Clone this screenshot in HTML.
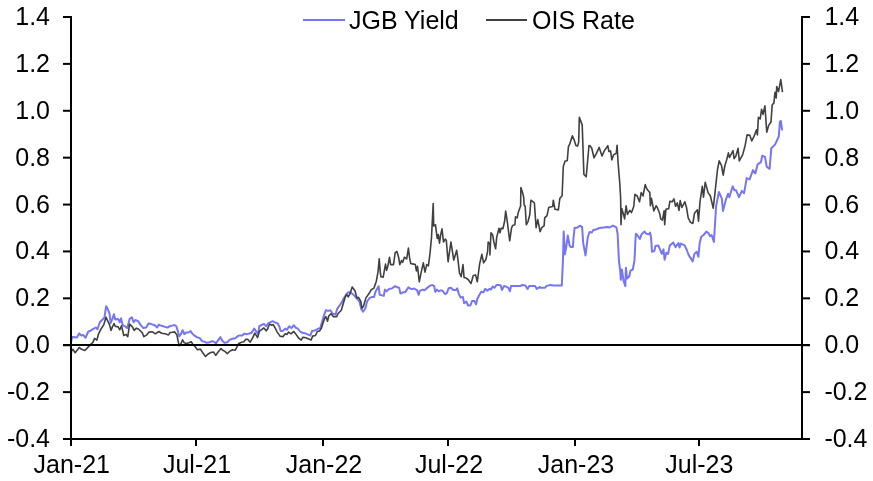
<!DOCTYPE html><html><head><meta charset="utf-8"><style>html,body{margin:0;padding:0;background:#fff;width:873px;height:481px;overflow:hidden}</style></head><body><svg width="873" height="481" viewBox="0 0 873 481" style="position:absolute;left:0;top:0;will-change:transform"><path d="M71.1,341.8 L71.7,338.9 L72.3,336.9 L74.6,337.2 L76.9,337.6 L79.2,333.4 L81.5,335.5 L83.2,334.9 L85.5,337.8 L88.3,331.5 L90.6,330.7 L92.9,329.2 L95.8,327.5 L97.5,329.2 L99.8,322.3 L102.1,320.0 L104.4,317.8 L106.1,306.3 L107.8,309.2 L109.5,313.7 L110.7,322.9 L112.4,318.9 L113.9,314.3 L115.2,319.5 L118.1,318.9 L119.8,322.3 L121.0,318.3 L122.7,325.2 L125.0,326.3 L127.3,328.1 L129.6,318.9 L131.9,317.2 L133.6,322.3 L135.3,320.0 L138.2,321.2 L140.4,324.6 L143.3,328.1 L146.2,327.5 L148.5,323.5 L151.3,324.1 L154.8,325.2 L157.1,327.5 L158.8,324.6 L161.6,325.8 L165.1,326.9 L167.9,327.5 L169.7,326.1 L170.0,326.2 L172.3,325.6 L174.6,325.0 L176.3,326.2 L177.4,329.6 L179.2,336.5 L180.9,334.2 L182.6,330.2 L184.3,334.2 L186.0,332.5 L188.3,332.5 L190.6,331.1 L192.3,333.6 L194.1,335.4 L196.9,337.1 L199.8,338.2 L202.1,341.1 L204.4,341.7 L206.7,342.8 L209.5,342.2 L212.4,341.1 L214.7,342.2 L215.8,343.7 L217.5,341.1 L220.4,337.1 L222.1,340.5 L224.4,342.8 L227.3,342.2 L229.6,339.9 L232.4,338.8 L235.3,338.2 L238.2,335.9 L239.9,335.4 L242.2,335.4 L244.5,333.6 L246.7,334.2 L249.0,333.6 L251.3,333.1 L254.2,328.5 L256.5,331.9 L258.2,334.2 L259.3,326.2 L261.6,325.0 L263.9,323.9 L266.2,326.2 L268.0,323.5 L270.3,322.3 L272.6,321.2 L274.9,322.3 L277.7,323.5 L279.5,326.9 L280.6,330.9 L282.9,330.9 L285.2,328.6 L286.9,329.8 L289.2,326.3 L291.5,328.1 L293.8,325.2 L295.5,327.5 L297.8,328.6 L300.1,331.5 L301.8,332.6 L304.7,333.2 L307.5,334.4 L310.4,335.5 L312.1,330.9 L315.0,330.4 L318.4,328.6 L320.1,328.6 L321.8,322.9 L323.6,316.6 L325.8,310.3 L328.1,310.9 L330.4,310.3 L332.7,313.7 L335.6,314.3 L337.3,308.6 L340.2,304.6 L342.5,301.1 L343.6,298.5 L345.9,295.0 L348.2,292.2 L350.5,292.2 L352.2,293.9 L353.9,295.0 L356.2,297.9 L357.9,299.6 L359.6,301.9 L361.4,309.4 L363.1,311.7 L365.4,308.2 L367.1,301.3 L368.0,300.2 L369.4,298.2 L371.7,297.1 L374.0,297.1 L375.7,291.3 L378.6,286.2 L379.7,294.8 L382.0,295.4 L383.8,295.9 L384.9,289.6 L386.6,291.3 L388.9,289.1 L391.8,288.5 L395.2,286.2 L397.5,287.3 L399.2,287.9 L400.4,293.6 L402.7,292.5 L405.5,291.9 L408.4,287.3 L410.1,288.5 L411.8,289.1 L414.1,288.5 L417.0,290.2 L418.7,294.8 L419.8,290.8 L422.7,289.6 L424.4,290.2 L427.3,287.9 L430.1,285.6 L432.4,285.0 L434.2,286.2 L435.3,291.9 L437.0,289.6 L438.7,291.3 L440.0,290.6 L442.3,290.6 L445.2,294.1 L446.9,292.9 L448.6,288.3 L450.9,287.8 L453.2,290.0 L456.0,290.0 L457.2,288.3 L458.9,294.1 L460.6,297.5 L462.9,296.9 L464.1,303.2 L466.3,301.5 L468.1,305.5 L470.4,305.5 L472.1,300.9 L474.4,300.9 L476.1,304.4 L477.2,299.2 L478.9,295.8 L481.2,291.8 L483.5,292.3 L485.2,288.9 L487.5,290.6 L489.3,288.9 L491.0,289.5 L492.7,286.6 L494.4,287.8 L496.7,284.9 L499.0,284.9 L500.7,285.5 L501.9,290.0 L504.1,286.0 L506.4,286.6 L508.7,288.3 L509.9,291.2 L511.0,286.0 L514.5,286.0 L520.2,286.0 L522.5,284.9 L525.3,285.5 L527.6,288.9 L529.3,286.0 L535.1,286.0 L536.8,288.9 L539.1,287.2 L540.0,287.0 L540.0,287.8 L545.2,287.8 L546.3,286.1 L550.3,284.9 L553.7,285.5 L557.2,285.5 L561.8,285.5 L562.9,261.5 L563.7,231.5 L564.9,254.4 L566.0,248.6 L567.8,235.5 L569.5,245.2 L570.6,246.9 L572.9,246.9 L573.5,238.3 L574.6,228.0 L577.5,227.4 L579.8,225.7 L582.1,226.9 L583.2,242.9 L585.5,255.5 L587.8,237.2 L589.5,232.0 L591.8,232.6 L593.5,229.7 L595.8,229.7 L599.3,228.0 L603.8,227.4 L607.3,226.9 L609.6,227.4 L613.0,225.7 L616.4,227.4 L617.6,233.7 L619.0,261.5 L620.2,270.6 L620.8,279.8 L621.9,269.5 L623.6,280.9 L625.3,286.1 L625.9,267.8 L627.1,278.6 L629.3,276.3 L630.5,270.6 L632.8,269.5 L634.5,260.3 L635.3,242.9 L635.9,233.7 L637.6,235.5 L639.9,238.9 L641.6,234.3 L644.5,231.5 L646.2,233.7 L649.1,234.3 L650.0,232.6 L650.9,236.2 L651.5,243.6 L652.0,251.7 L654.3,251.1 L655.5,245.9 L658.3,245.4 L660.0,249.4 L661.8,253.9 L663.5,249.4 L664.6,259.7 L666.3,252.8 L668.1,253.9 L669.8,245.4 L673.2,242.5 L675.5,247.1 L678.4,243.1 L679.5,247.6 L680.7,243.6 L684.7,245.4 L687.0,250.5 L688.7,255.1 L692.7,261.4 L694.4,253.9 L696.7,251.7 L698.4,256.8 L699.6,243.6 L701.3,236.8 L703.6,235.0 L706.4,231.6 L708.7,233.3 L709.9,236.2 L711.6,235.0 L713.9,241.9 L716.1,206.3 L718.9,192.0 L721.8,198.3 L723.0,210.9 L725.8,200.0 L728.1,193.7 L729.3,197.2 L732.7,186.3 L734.4,190.3 L736.1,190.3 L739.0,197.2 L741.9,190.9 L744.1,193.2 L746.7,178.1 L749.6,179.3 L753.0,170.1 L755.3,173.5 L757.6,164.4 L761.0,162.1 L762.2,155.8 L765.0,156.9 L766.7,166.7 L769.6,168.9 L771.3,148.3 L774.8,144.9 L776.5,141.5 L778.8,136.3 L779.9,121.8 L780.8,120.9 L782.2,130.3" fill="none" stroke="#7676f5" stroke-width="2" stroke-linejoin="round"/><path d="M71.1,354.4 L71.7,350.4 L72.9,349.3 L75.2,352.7 L79.2,347.5 L81.5,349.3 L84.9,350.4 L87.2,348.1 L90.0,345.2 L92.9,342.4 L94.6,338.4 L96.9,340.1 L98.6,333.8 L100.9,329.2 L103.8,324.6 L106.1,317.2 L107.8,321.2 L109.5,324.6 L111.0,330.4 L112.4,326.9 L114.1,323.5 L115.2,326.3 L118.1,326.9 L119.8,329.8 L121.5,325.8 L123.8,335.5 L126.1,334.4 L127.8,336.7 L129.6,324.1 L132.4,326.9 L134.1,330.4 L136.4,328.1 L138.7,329.2 L142.2,332.6 L143.9,336.7 L146.7,334.9 L149.0,332.1 L152.5,331.8 L155.3,333.8 L158.8,331.5 L161.6,333.2 L165.1,333.8 L168.5,334.9 L169.7,333.2 L170.0,332.5 L172.3,332.3 L174.6,331.9 L176.9,334.8 L178.0,340.5 L179.2,345.7 L180.9,343.9 L182.6,339.9 L184.3,342.8 L186.6,343.4 L188.9,342.8 L191.2,341.7 L192.9,344.5 L195.2,346.8 L197.5,349.7 L200.4,349.1 L202.6,352.5 L205.5,356.5 L207.8,354.3 L210.7,352.5 L213.5,352.0 L215.8,355.4 L218.1,352.0 L221.0,348.5 L222.7,350.2 L225.0,351.4 L227.3,353.7 L229.6,351.4 L232.4,349.7 L235.3,350.2 L237.0,346.8 L238.7,343.4 L241.6,342.2 L243.9,341.7 L245.6,339.4 L247.9,339.4 L250.2,342.2 L252.5,338.2 L254.8,333.1 L257.6,337.6 L259.3,331.3 L261.6,329.6 L263.9,327.9 L266.2,330.8 L267.9,328.5 L268.0,327.5 L269.7,324.1 L271.4,325.2 L273.2,324.6 L274.9,327.5 L277.2,332.1 L280.0,336.1 L282.9,336.7 L285.2,333.8 L286.9,334.4 L288.6,332.1 L290.9,333.8 L293.8,331.5 L296.1,334.4 L298.4,337.8 L301.2,340.1 L302.9,337.2 L305.8,337.8 L308.7,338.9 L311.0,340.1 L312.7,336.1 L315.5,335.5 L317.3,331.5 L319.5,330.9 L321.3,328.6 L323.0,322.9 L324.7,318.3 L325.8,316.6 L327.6,321.2 L328.7,316.0 L331.0,313.7 L333.3,316.6 L336.7,316.6 L337.9,313.7 L341.3,310.3 L343.6,302.5 L345.3,296.8 L346.5,294.5 L348.2,296.8 L349.9,293.9 L352.2,287.0 L355.1,291.0 L356.8,297.9 L358.5,297.3 L360.8,301.3 L361.9,308.2 L363.6,305.9 L365.9,297.9 L368.9,293.8 L371.2,289.8 L374.0,288.1 L376.3,281.2 L378.0,272.1 L379.2,258.9 L380.3,272.1 L380.9,276.7 L383.2,277.2 L384.3,270.9 L385.5,264.1 L386.6,270.4 L387.8,266.3 L389.5,257.2 L390.6,264.6 L393.5,264.6 L395.2,252.6 L396.9,251.5 L398.6,257.2 L399.8,264.6 L401.5,260.6 L402.7,262.3 L404.4,257.2 L406.7,258.9 L408.4,248.0 L409.5,257.2 L410.7,263.5 L413.5,264.1 L415.3,264.6 L416.4,270.9 L417.5,266.3 L419.3,281.8 L421.0,273.2 L423.3,262.9 L425.0,272.1 L426.7,264.6 L428.4,265.8 L430.1,252.6 L431.5,237.4 L433.2,203.6 L433.7,225.9 L435.5,224.8 L437.2,238.5 L438.3,234.5 L439.5,243.1 L440.6,235.1 L442.0,228.8 L443.5,242.0 L445.2,239.1 L446.3,240.2 L448.1,261.8 L450.9,242.0 L453.8,260.0 L456.7,250.3 L457.8,258.3 L459.5,273.2 L461.2,276.7 L463.0,264.6 L464.1,277.8 L465.8,277.8 L468.1,279.5 L471.0,283.5 L473.3,275.5 L475.6,274.9 L477.3,281.8 L479.6,264.1 L481.9,254.3 L483.6,262.9 L485.9,259.5 L487.6,251.5 L488.2,242.0 L489.9,244.3 L489.9,254.9 L491.0,232.8 L492.7,235.1 L493.9,242.0 L495.6,248.8 L496.7,237.4 L499.0,228.2 L500.0,232.8 L501.1,228.2 L502.9,228.8 L504.6,221.3 L505.7,211.0 L507.4,222.5 L509.7,240.8 L511.5,228.2 L512.6,225.4 L514.9,224.8 L515.5,216.8 L517.2,217.9 L518.3,212.2 L520.6,205.9 L520.9,187.6 L522.6,192.8 L523.7,197.4 L524.1,204.7 L525.2,206.5 L526.3,224.8 L528.1,221.3 L529.8,214.5 L530.9,200.2 L533.2,201.9 L534.4,203.0 L536.1,227.6 L537.8,219.6 L540.1,231.7 L541.8,227.6 L544.1,225.9 L544.7,217.9 L547.0,215.6 L548.7,207.6 L550.4,207.0 L552.7,206.5 L553.3,200.2 L555.0,209.3 L558.4,209.9 L559.8,198.5 L562.1,195.7 L563.3,166.5 L565.0,161.3 L567.3,160.4 L568.4,146.7 L569.6,144.4 L572.4,135.8 L574.1,139.8 L575.9,145.5 L577.6,146.1 L578.7,142.1 L579.3,117.4 L582.2,124.9 L583.9,174.5 L586.2,176.8 L589.0,145.5 L590.0,145.7 L591.7,148.0 L594.0,157.8 L596.3,153.7 L599.2,147.4 L602.0,156.0 L604.3,150.9 L607.8,145.7 L608.9,151.5 L610.6,150.9 L611.8,160.0 L613.5,154.9 L616.3,153.2 L617.1,145.2 L618.1,162.9 L619.8,183.5 L620.6,197.2 L621.0,224.7 L621.8,208.6 L623.5,214.4 L624.6,218.9 L626.1,205.8 L627.5,214.4 L629.8,210.4 L631.5,212.6 L633.8,206.3 L634.9,194.3 L637.2,196.0 L639.5,201.8 L641.2,192.6 L643.0,196.0 L645.2,184.6 L647.0,189.2 L649.8,192.6 L650.4,205.8 L651.5,198.3 L653.8,210.9 L656.1,205.8 L657.3,207.5 L659.6,213.2 L660.7,218.9 L662.4,220.1 L664.1,210.9 L664.7,224.7 L665.9,209.2 L668.7,208.6 L669.9,201.2 L672.2,201.8 L673.9,198.9 L675.6,206.3 L677.3,202.9 L679.0,210.4 L680.2,200.6 L681.9,207.5 L684.8,201.8 L686.5,207.5 L688.2,217.8 L690.5,222.4 L692.8,223.5 L694.5,213.2 L697.4,209.8 L698.5,221.2 L700.0,201.8 L702.3,186.3 L703.5,197.2 L705.2,182.3 L708.1,192.6 L710.4,196.0 L713.2,208.1 L714.9,193.7 L717.5,169.5 L719.2,160.9 L721.5,165.5 L723.2,175.2 L724.9,165.5 L726.7,159.8 L728.4,152.9 L729.5,157.5 L733.0,150.6 L734.1,158.6 L735.8,156.3 L738.1,148.3 L739.3,160.9 L742.7,154.6 L745.0,146.0 L745.7,142.4 L747.1,134.9 L749.9,135.4 L751.8,141.0 L754.2,135.9 L756.5,129.8 L757.4,134.9 L758.4,117.2 L760.2,119.0 L761.6,109.2 L763.0,114.4 L764.9,105.9 L766.8,132.1 L768.7,125.4 L771.0,122.0 L772.2,104.8 L773.9,103.1 L775.0,92.2 L776.2,97.9 L776.7,86.5 L778.5,91.6 L780.8,79.6 L782.5,92.2" fill="none" stroke="#404040" stroke-width="1.6" stroke-linejoin="round"/><g stroke="#000" stroke-width="2" fill="none"><line x1="71" y1="16" x2="71" y2="440"/><line x1="802" y1="16" x2="802" y2="440"/><line x1="63" y1="345" x2="810" y2="345"/><line x1="63" y1="439" x2="810" y2="439"/><line x1="63" y1="17.00" x2="71" y2="17.00"/><line x1="802" y1="17.00" x2="810" y2="17.00"/><line x1="63" y1="63.89" x2="71" y2="63.89"/><line x1="802" y1="63.89" x2="810" y2="63.89"/><line x1="63" y1="110.78" x2="71" y2="110.78"/><line x1="802" y1="110.78" x2="810" y2="110.78"/><line x1="63" y1="157.67" x2="71" y2="157.67"/><line x1="802" y1="157.67" x2="810" y2="157.67"/><line x1="63" y1="204.56" x2="71" y2="204.56"/><line x1="802" y1="204.56" x2="810" y2="204.56"/><line x1="63" y1="251.44" x2="71" y2="251.44"/><line x1="802" y1="251.44" x2="810" y2="251.44"/><line x1="63" y1="298.33" x2="71" y2="298.33"/><line x1="802" y1="298.33" x2="810" y2="298.33"/><line x1="63" y1="345.22" x2="71" y2="345.22"/><line x1="802" y1="345.22" x2="810" y2="345.22"/><line x1="63" y1="392.11" x2="71" y2="392.11"/><line x1="802" y1="392.11" x2="810" y2="392.11"/><line x1="63" y1="439.00" x2="71" y2="439.00"/><line x1="802" y1="439.00" x2="810" y2="439.00"/><line x1="71.00" y1="439" x2="71.00" y2="446"/><line x1="196.00" y1="439" x2="196.00" y2="446"/><line x1="323.00" y1="439" x2="323.00" y2="446"/><line x1="448.00" y1="439" x2="448.00" y2="446"/><line x1="575.00" y1="439" x2="575.00" y2="446"/><line x1="699.00" y1="439" x2="699.00" y2="446"/></g><line x1="303" y1="20" x2="345" y2="20" stroke="#7676f5" stroke-width="2"/><line x1="486" y1="20" x2="527" y2="20" stroke="#404040" stroke-width="2"/><g font-family="Liberation Sans, sans-serif" font-size="25" fill="#000"><text x="349" y="29">JGB Yield</text><text x="532" y="29">OIS Rate</text><text x="50" y="25.0" text-anchor="end">1.4</text><text x="824.4" y="25.0">1.4</text><text x="50" y="71.9" text-anchor="end">1.2</text><text x="824.4" y="71.9">1.2</text><text x="50" y="118.8" text-anchor="end">1.0</text><text x="824.4" y="118.8">1.0</text><text x="50" y="165.7" text-anchor="end">0.8</text><text x="824.4" y="165.7">0.8</text><text x="50" y="212.6" text-anchor="end">0.6</text><text x="824.4" y="212.6">0.6</text><text x="50" y="259.4" text-anchor="end">0.4</text><text x="824.4" y="259.4">0.4</text><text x="50" y="306.3" text-anchor="end">0.2</text><text x="824.4" y="306.3">0.2</text><text x="50" y="353.2" text-anchor="end">0.0</text><text x="824.4" y="353.2">0.0</text><text x="50" y="400.1" text-anchor="end">-0.2</text><text x="824.4" y="400.1">-0.2</text><text x="50" y="447.0" text-anchor="end">-0.4</text><text x="824.4" y="447.0">-0.4</text><text x="71.8" y="473" text-anchor="middle">Jan-21</text><text x="197.0" y="473" text-anchor="middle">Jul-21</text><text x="324.0" y="473" text-anchor="middle">Jan-22</text><text x="449.0" y="473" text-anchor="middle">Jul-22</text><text x="576.0" y="473" text-anchor="middle">Jan-23</text><text x="699.3" y="473" text-anchor="middle">Jul-23</text></g></svg></body></html>
